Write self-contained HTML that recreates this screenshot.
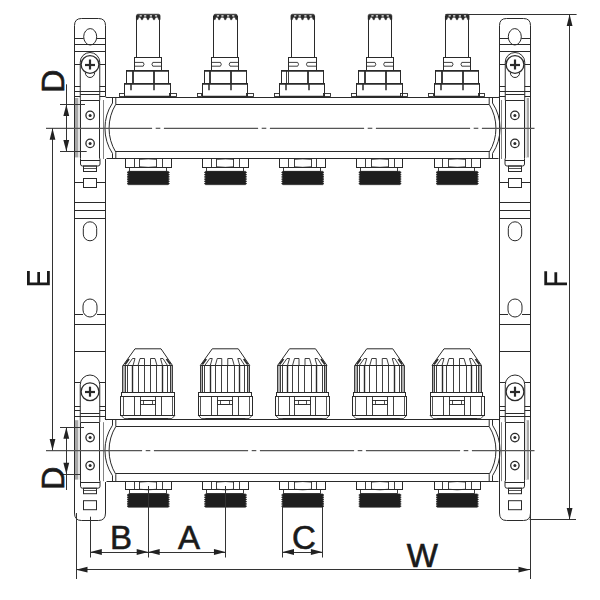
<!DOCTYPE html>
<html><head><meta charset="utf-8"><style>
html,body{margin:0;padding:0;background:#fff;width:600px;height:600px;overflow:hidden}
svg{display:block}
text{font-family:"Liberation Sans",sans-serif}
</style></head><body>
<svg width="600" height="600" viewBox="0 0 600 600">
<rect width="600" height="600" fill="#fff"/>
<path d="M74.50,97 L74.50,25.5 Q74.50,18.5 81.50,18.5 L98.50,18.5 Q105.50,18.5 105.50,25.5 L105.50,96" fill="none" stroke="#2a2a2a" stroke-width="1"/>
<line x1="74.50" y1="97.00" x2="74.50" y2="158.00" stroke="#2a2a2a" stroke-width="1.0" />
<line x1="74.50" y1="158.00" x2="74.50" y2="420.00" stroke="#2a2a2a" stroke-width="1.0" />
<line x1="105.50" y1="159.00" x2="105.50" y2="420.00" stroke="#2a2a2a" stroke-width="1.0" />
<line x1="74.50" y1="420.00" x2="74.50" y2="480.00" stroke="#2a2a2a" stroke-width="1.0" />
<path d="M74.50,480 L74.50,513 Q74.50,520.5 81.50,520.5 L98.50,520.5 Q105.50,520.5 105.50,513 L105.50,482" fill="none" stroke="#2a2a2a" stroke-width="1"/>
<ellipse cx="90.20" cy="36.80" rx="6.50" ry="8.20" fill="none" stroke="#2a2a2a" stroke-width="1.0"/>
<line x1="75.00" y1="38.50" x2="83.70" y2="38.50" stroke="#2a2a2a" stroke-width="1.0" />
<line x1="96.70" y1="38.50" x2="105.30" y2="38.50" stroke="#2a2a2a" stroke-width="1.0" />
<line x1="75.00" y1="44.50" x2="105.30" y2="44.50" stroke="#2a2a2a" stroke-width="1.0" />
<line x1="75.00" y1="51.50" x2="105.30" y2="51.50" stroke="#2a2a2a" stroke-width="1.0" />
<path d="M80.25,100.3 L80.25,62.25 A9.75,9.75 0 0 1 99.75,62.25 L99.75,100.3" fill="none" stroke="#2a2a2a" stroke-width="1"/>
<line x1="75.00" y1="64.50" x2="80.25" y2="64.50" stroke="#2a2a2a" stroke-width="1.0" />
<line x1="99.75" y1="64.50" x2="105.30" y2="64.50" stroke="#2a2a2a" stroke-width="1.0" />
<circle cx="90.00" cy="64.50" r="8.90" fill="#fff" stroke="#2a2a2a" stroke-width="1.3"/>
<line x1="85.00" y1="65.00" x2="95.00" y2="65.00" stroke="#2a2a2a" stroke-width="2.2" />
<line x1="90.00" y1="59.50" x2="90.00" y2="69.50" stroke="#2a2a2a" stroke-width="2.2" />
<path d="M80.25,422 L80.25,384.75 A9.75,9.75 0 0 1 99.75,384.75 L99.75,422" fill="none" stroke="#2a2a2a" stroke-width="1"/>
<line x1="75.00" y1="382.50" x2="80.25" y2="382.50" stroke="#2a2a2a" stroke-width="1.0" />
<line x1="99.75" y1="382.50" x2="105.30" y2="382.50" stroke="#2a2a2a" stroke-width="1.0" />
<circle cx="90.00" cy="391.70" r="8.90" fill="#fff" stroke="#2a2a2a" stroke-width="1.3"/>
<line x1="85.00" y1="392.00" x2="95.00" y2="392.00" stroke="#2a2a2a" stroke-width="2.2" />
<line x1="90.00" y1="386.70" x2="90.00" y2="396.70" stroke="#2a2a2a" stroke-width="2.2" />
<path d="M85.30,72.6 A4.7,4.9 0 0 0 94.70,72.6" fill="none" stroke="#2a2a2a" stroke-width="1"/>
<line x1="75.00" y1="86.50" x2="80.30" y2="86.50" stroke="#2a2a2a" stroke-width="1.0" />
<line x1="99.70" y1="86.50" x2="105.30" y2="86.50" stroke="#2a2a2a" stroke-width="1.0" />
<line x1="75.00" y1="91.50" x2="105.30" y2="91.50" stroke="#2a2a2a" stroke-width="1.0" />
<line x1="80.30" y1="94.50" x2="99.70" y2="94.50" stroke="#2a2a2a" stroke-width="1.0" />
<line x1="75.00" y1="96.50" x2="80.30" y2="96.50" stroke="#2a2a2a" stroke-width="1.0" />
<line x1="99.70" y1="96.50" x2="105.30" y2="96.50" stroke="#2a2a2a" stroke-width="1.0" />
<line x1="80.30" y1="100.50" x2="99.70" y2="100.50" stroke="#2a2a2a" stroke-width="1.0" />
<line x1="75.00" y1="406.50" x2="80.30" y2="406.50" stroke="#2a2a2a" stroke-width="1.0" />
<line x1="99.70" y1="406.50" x2="105.30" y2="406.50" stroke="#2a2a2a" stroke-width="1.0" />
<line x1="75.00" y1="410.50" x2="80.30" y2="410.50" stroke="#2a2a2a" stroke-width="1.0" />
<line x1="99.70" y1="410.50" x2="105.30" y2="410.50" stroke="#2a2a2a" stroke-width="1.0" />
<line x1="80.30" y1="413.50" x2="99.70" y2="413.50" stroke="#2a2a2a" stroke-width="1.0" />
<line x1="75.00" y1="416.50" x2="105.30" y2="416.50" stroke="#2a2a2a" stroke-width="1.0" />
<line x1="80.30" y1="422.50" x2="99.70" y2="422.50" stroke="#2a2a2a" stroke-width="1.0" />
<rect x="75" y="98.00" width="3" height="59.40" fill="#a8a8a8"/>
<rect x="78" y="98.00" width="2" height="59.40" fill="#e2e2e2"/>
<line x1="80.50" y1="100.30" x2="80.50" y2="158.60" stroke="#2a2a2a" stroke-width="1.0" />
<line x1="99.50" y1="100.30" x2="99.50" y2="158.60" stroke="#2a2a2a" stroke-width="1.0" />
<line x1="103.50" y1="100.00" x2="103.50" y2="159.00" stroke="#777" stroke-width="0.9" />
<circle cx="90.10" cy="115.40" r="4.20" fill="none" stroke="#2a2a2a" stroke-width="1.3"/>
<circle cx="90.10" cy="115.40" r="1.50" fill="#2a2a2a" stroke="#2a2a2a" stroke-width="0"/>
<circle cx="90.10" cy="143.40" r="4.20" fill="none" stroke="#2a2a2a" stroke-width="1.3"/>
<circle cx="90.10" cy="143.40" r="1.50" fill="#2a2a2a" stroke="#2a2a2a" stroke-width="0"/>
<path d="M80.50,158.60 L80.50,164.00 Q80.50,166.00 82.50,166.00 L98.00,166.00 Q100.00,166.00 100.00,164.00 L100.00,158.60" fill="none" stroke="#2a2a2a" stroke-width="1"/>
<line x1="80.50" y1="160.50" x2="100.00" y2="160.50" stroke="#2a2a2a" stroke-width="1.0" />
<rect x="83.50" y="166.00" width="13" height="5.5" fill="none" stroke="#2a2a2a" stroke-width="1"/>
<line x1="83.50" y1="168.50" x2="96.50" y2="168.50" stroke="#2a2a2a" stroke-width="0.8" />
<rect x="83.50" y="178.50" width="13" height="9" fill="none" stroke="#2a2a2a" stroke-width="1"/>
<rect x="75" y="420.20" width="3" height="59.40" fill="#a8a8a8"/>
<rect x="78" y="420.20" width="2" height="59.40" fill="#e2e2e2"/>
<line x1="80.50" y1="422.50" x2="80.50" y2="480.80" stroke="#2a2a2a" stroke-width="1.0" />
<line x1="99.50" y1="422.50" x2="99.50" y2="480.80" stroke="#2a2a2a" stroke-width="1.0" />
<line x1="103.50" y1="422.20" x2="103.50" y2="481.20" stroke="#777" stroke-width="0.9" />
<circle cx="90.10" cy="437.60" r="4.20" fill="none" stroke="#2a2a2a" stroke-width="1.3"/>
<circle cx="90.10" cy="437.60" r="1.50" fill="#2a2a2a" stroke="#2a2a2a" stroke-width="0"/>
<circle cx="90.10" cy="465.60" r="4.20" fill="none" stroke="#2a2a2a" stroke-width="1.3"/>
<circle cx="90.10" cy="465.60" r="1.50" fill="#2a2a2a" stroke="#2a2a2a" stroke-width="0"/>
<path d="M80.50,480.80 L80.50,486.20 Q80.50,488.20 82.50,488.20 L98.00,488.20 Q100.00,488.20 100.00,486.20 L100.00,480.80" fill="none" stroke="#2a2a2a" stroke-width="1"/>
<line x1="80.50" y1="482.50" x2="100.00" y2="482.50" stroke="#2a2a2a" stroke-width="1.0" />
<rect x="83.50" y="488.20" width="13" height="5.5" fill="none" stroke="#2a2a2a" stroke-width="1"/>
<line x1="83.50" y1="490.50" x2="96.50" y2="490.50" stroke="#2a2a2a" stroke-width="0.8" />
<rect x="83.50" y="500.70" width="13" height="9" fill="none" stroke="#2a2a2a" stroke-width="1"/>
<line x1="75.00" y1="182.50" x2="83.50" y2="182.50" stroke="#2a2a2a" stroke-width="1.0" />
<line x1="96.50" y1="182.50" x2="105.30" y2="182.50" stroke="#2a2a2a" stroke-width="1.0" />
<line x1="75.00" y1="202.50" x2="105.30" y2="202.50" stroke="#2a2a2a" stroke-width="1.0" />
<line x1="75.00" y1="210.50" x2="105.30" y2="210.50" stroke="#2a2a2a" stroke-width="1.0" />
<line x1="75.00" y1="218.50" x2="105.30" y2="218.50" stroke="#2a2a2a" stroke-width="1.0" />
<rect x="83.30" y="221.8" width="13.4" height="19" rx="6.7" ry="6.7" fill="none" stroke="#2a2a2a" stroke-width="1"/>
<rect x="83.00" y="299" width="14" height="18" rx="7" ry="7" fill="none" stroke="#2a2a2a" stroke-width="1"/>
<line x1="75.00" y1="314.50" x2="83.00" y2="314.50" stroke="#2a2a2a" stroke-width="1.0" />
<line x1="97.00" y1="314.50" x2="105.30" y2="314.50" stroke="#2a2a2a" stroke-width="1.0" />
<line x1="75.00" y1="324.50" x2="105.30" y2="324.50" stroke="#2a2a2a" stroke-width="1.0" />
<line x1="75.00" y1="351.50" x2="105.30" y2="351.50" stroke="#2a2a2a" stroke-width="1.0" />
<path d="M530.50,97 L530.50,25.5 Q530.50,18.5 523.50,18.5 L506.50,18.5 Q499.50,18.5 499.50,25.5 L499.50,96" fill="none" stroke="#2a2a2a" stroke-width="1"/>
<line x1="530.50" y1="97.00" x2="530.50" y2="158.00" stroke="#2a2a2a" stroke-width="1.0" />
<line x1="530.50" y1="158.00" x2="530.50" y2="420.00" stroke="#2a2a2a" stroke-width="1.0" />
<line x1="499.50" y1="159.00" x2="499.50" y2="420.00" stroke="#2a2a2a" stroke-width="1.0" />
<line x1="530.50" y1="420.00" x2="530.50" y2="480.00" stroke="#2a2a2a" stroke-width="1.0" />
<line x1="499.50" y1="96.00" x2="499.50" y2="159.00" stroke="#2a2a2a" stroke-width="1.0" />
<line x1="499.50" y1="420.00" x2="499.50" y2="482.00" stroke="#2a2a2a" stroke-width="1.0" />
<path d="M530.50,480 L530.50,513 Q530.50,520.5 523.50,520.5 L506.50,520.5 Q499.50,520.5 499.50,513 L499.50,482" fill="none" stroke="#2a2a2a" stroke-width="1"/>
<ellipse cx="514.80" cy="36.80" rx="6.50" ry="8.20" fill="none" stroke="#2a2a2a" stroke-width="1.0"/>
<line x1="530.00" y1="38.50" x2="521.30" y2="38.50" stroke="#2a2a2a" stroke-width="1.0" />
<line x1="508.30" y1="38.50" x2="499.70" y2="38.50" stroke="#2a2a2a" stroke-width="1.0" />
<line x1="530.00" y1="44.50" x2="499.70" y2="44.50" stroke="#2a2a2a" stroke-width="1.0" />
<line x1="530.00" y1="51.50" x2="499.70" y2="51.50" stroke="#2a2a2a" stroke-width="1.0" />
<path d="M524.75,100.3 L524.75,62.25 A9.75,9.75 0 0 0 505.25,62.25 L505.25,100.3" fill="none" stroke="#2a2a2a" stroke-width="1"/>
<line x1="530.00" y1="64.50" x2="524.75" y2="64.50" stroke="#2a2a2a" stroke-width="1.0" />
<line x1="505.25" y1="64.50" x2="499.70" y2="64.50" stroke="#2a2a2a" stroke-width="1.0" />
<circle cx="515.00" cy="64.50" r="8.90" fill="#fff" stroke="#2a2a2a" stroke-width="1.3"/>
<line x1="520.00" y1="65.00" x2="510.00" y2="65.00" stroke="#2a2a2a" stroke-width="2.2" />
<line x1="515.00" y1="59.50" x2="515.00" y2="69.50" stroke="#2a2a2a" stroke-width="2.2" />
<path d="M524.75,422 L524.75,384.75 A9.75,9.75 0 0 0 505.25,384.75 L505.25,422" fill="none" stroke="#2a2a2a" stroke-width="1"/>
<line x1="530.00" y1="382.50" x2="524.75" y2="382.50" stroke="#2a2a2a" stroke-width="1.0" />
<line x1="505.25" y1="382.50" x2="499.70" y2="382.50" stroke="#2a2a2a" stroke-width="1.0" />
<circle cx="515.00" cy="391.70" r="8.90" fill="#fff" stroke="#2a2a2a" stroke-width="1.3"/>
<line x1="520.00" y1="392.00" x2="510.00" y2="392.00" stroke="#2a2a2a" stroke-width="2.2" />
<line x1="515.00" y1="386.70" x2="515.00" y2="396.70" stroke="#2a2a2a" stroke-width="2.2" />
<path d="M519.70,72.6 A4.7,4.9 0 0 1 510.30,72.6" fill="none" stroke="#2a2a2a" stroke-width="1"/>
<line x1="530.00" y1="86.50" x2="524.70" y2="86.50" stroke="#2a2a2a" stroke-width="1.0" />
<line x1="505.30" y1="86.50" x2="499.70" y2="86.50" stroke="#2a2a2a" stroke-width="1.0" />
<line x1="530.00" y1="91.50" x2="499.70" y2="91.50" stroke="#2a2a2a" stroke-width="1.0" />
<line x1="524.70" y1="94.50" x2="505.30" y2="94.50" stroke="#2a2a2a" stroke-width="1.0" />
<line x1="530.00" y1="96.50" x2="524.70" y2="96.50" stroke="#2a2a2a" stroke-width="1.0" />
<line x1="505.30" y1="96.50" x2="499.70" y2="96.50" stroke="#2a2a2a" stroke-width="1.0" />
<line x1="524.70" y1="100.50" x2="505.30" y2="100.50" stroke="#2a2a2a" stroke-width="1.0" />
<line x1="530.00" y1="406.50" x2="524.70" y2="406.50" stroke="#2a2a2a" stroke-width="1.0" />
<line x1="505.30" y1="406.50" x2="499.70" y2="406.50" stroke="#2a2a2a" stroke-width="1.0" />
<line x1="530.00" y1="410.50" x2="524.70" y2="410.50" stroke="#2a2a2a" stroke-width="1.0" />
<line x1="505.30" y1="410.50" x2="499.70" y2="410.50" stroke="#2a2a2a" stroke-width="1.0" />
<line x1="524.70" y1="413.50" x2="505.30" y2="413.50" stroke="#2a2a2a" stroke-width="1.0" />
<line x1="530.00" y1="416.50" x2="499.70" y2="416.50" stroke="#2a2a2a" stroke-width="1.0" />
<line x1="524.70" y1="422.50" x2="505.30" y2="422.50" stroke="#2a2a2a" stroke-width="1.0" />
<rect x="526" y="98.00" width="3" height="59.40" fill="#a8a8a8"/>
<rect x="525" y="98.00" width="2" height="59.40" fill="#e2e2e2"/>
<line x1="524.50" y1="100.30" x2="524.50" y2="158.60" stroke="#2a2a2a" stroke-width="1.0" />
<line x1="505.50" y1="100.30" x2="505.50" y2="158.60" stroke="#2a2a2a" stroke-width="1.0" />
<line x1="501.50" y1="100.00" x2="501.50" y2="159.00" stroke="#777" stroke-width="0.9" />
<circle cx="514.90" cy="115.40" r="4.20" fill="none" stroke="#2a2a2a" stroke-width="1.3"/>
<circle cx="514.90" cy="115.40" r="1.50" fill="#2a2a2a" stroke="#2a2a2a" stroke-width="0"/>
<circle cx="514.90" cy="143.40" r="4.20" fill="none" stroke="#2a2a2a" stroke-width="1.3"/>
<circle cx="514.90" cy="143.40" r="1.50" fill="#2a2a2a" stroke="#2a2a2a" stroke-width="0"/>
<path d="M524.50,158.60 L524.50,164.00 Q524.50,166.00 522.50,166.00 L507.00,166.00 Q505.00,166.00 505.00,164.00 L505.00,158.60" fill="none" stroke="#2a2a2a" stroke-width="1"/>
<line x1="524.50" y1="160.50" x2="505.00" y2="160.50" stroke="#2a2a2a" stroke-width="1.0" />
<rect x="508.50" y="166.00" width="13" height="5.5" fill="none" stroke="#2a2a2a" stroke-width="1"/>
<line x1="521.50" y1="168.50" x2="508.50" y2="168.50" stroke="#2a2a2a" stroke-width="0.8" />
<rect x="508.50" y="178.50" width="13" height="9" fill="none" stroke="#2a2a2a" stroke-width="1"/>
<rect x="526" y="420.20" width="3" height="59.40" fill="#a8a8a8"/>
<rect x="525" y="420.20" width="2" height="59.40" fill="#e2e2e2"/>
<line x1="524.50" y1="422.50" x2="524.50" y2="480.80" stroke="#2a2a2a" stroke-width="1.0" />
<line x1="505.50" y1="422.50" x2="505.50" y2="480.80" stroke="#2a2a2a" stroke-width="1.0" />
<line x1="501.50" y1="422.20" x2="501.50" y2="481.20" stroke="#777" stroke-width="0.9" />
<circle cx="514.90" cy="437.60" r="4.20" fill="none" stroke="#2a2a2a" stroke-width="1.3"/>
<circle cx="514.90" cy="437.60" r="1.50" fill="#2a2a2a" stroke="#2a2a2a" stroke-width="0"/>
<circle cx="514.90" cy="465.60" r="4.20" fill="none" stroke="#2a2a2a" stroke-width="1.3"/>
<circle cx="514.90" cy="465.60" r="1.50" fill="#2a2a2a" stroke="#2a2a2a" stroke-width="0"/>
<path d="M524.50,480.80 L524.50,486.20 Q524.50,488.20 522.50,488.20 L507.00,488.20 Q505.00,488.20 505.00,486.20 L505.00,480.80" fill="none" stroke="#2a2a2a" stroke-width="1"/>
<line x1="524.50" y1="482.50" x2="505.00" y2="482.50" stroke="#2a2a2a" stroke-width="1.0" />
<rect x="508.50" y="488.20" width="13" height="5.5" fill="none" stroke="#2a2a2a" stroke-width="1"/>
<line x1="521.50" y1="490.50" x2="508.50" y2="490.50" stroke="#2a2a2a" stroke-width="0.8" />
<rect x="508.50" y="500.70" width="13" height="9" fill="none" stroke="#2a2a2a" stroke-width="1"/>
<line x1="530.00" y1="182.50" x2="521.50" y2="182.50" stroke="#2a2a2a" stroke-width="1.0" />
<line x1="508.50" y1="182.50" x2="499.70" y2="182.50" stroke="#2a2a2a" stroke-width="1.0" />
<line x1="530.00" y1="202.50" x2="499.70" y2="202.50" stroke="#2a2a2a" stroke-width="1.0" />
<line x1="530.00" y1="210.50" x2="499.70" y2="210.50" stroke="#2a2a2a" stroke-width="1.0" />
<line x1="530.00" y1="218.50" x2="499.70" y2="218.50" stroke="#2a2a2a" stroke-width="1.0" />
<rect x="508.30" y="221.8" width="13.4" height="19" rx="6.7" ry="6.7" fill="none" stroke="#2a2a2a" stroke-width="1"/>
<rect x="508.00" y="299" width="14" height="18" rx="7" ry="7" fill="none" stroke="#2a2a2a" stroke-width="1"/>
<line x1="530.00" y1="314.50" x2="522.00" y2="314.50" stroke="#2a2a2a" stroke-width="1.0" />
<line x1="508.00" y1="314.50" x2="499.70" y2="314.50" stroke="#2a2a2a" stroke-width="1.0" />
<line x1="530.00" y1="324.50" x2="499.70" y2="324.50" stroke="#2a2a2a" stroke-width="1.0" />
<line x1="530.00" y1="351.50" x2="499.70" y2="351.50" stroke="#2a2a2a" stroke-width="1.0" />
<line x1="106.50" y1="97.50" x2="498.50" y2="97.50" stroke="#2a2a2a" stroke-width="1.1" />
<line x1="116.00" y1="104.50" x2="489.00" y2="104.50" stroke="#2a2a2a" stroke-width="1.0" />
<line x1="116.00" y1="151.50" x2="489.00" y2="151.50" stroke="#2a2a2a" stroke-width="1.0" />
<line x1="106.50" y1="158.50" x2="498.50" y2="158.50" stroke="#2a2a2a" stroke-width="1.1" />
<path d="M112.50,97.50 L112.50,103.00 A46,46 0 0 0 112.50,153.50 L112.50,159.00" fill="none" stroke="#2a2a2a" stroke-width="1"/>
<path d="M115.80,97.50 L115.80,104.30 A46,46 0 0 0 115.80,152.20 L115.80,159.00" fill="none" stroke="#2a2a2a" stroke-width="1"/>
<path d="M105.10,96.20 Q105.30,97.50 107.00,97.50" fill="none" stroke="#2a2a2a" stroke-width="1"/>
<path d="M492.50,97.50 L492.50,103.00 A46,46 0 0 1 492.50,153.50 L492.50,159.00" fill="none" stroke="#2a2a2a" stroke-width="1"/>
<path d="M489.20,97.50 L489.20,104.30 A46,46 0 0 1 489.20,152.20 L489.20,159.00" fill="none" stroke="#2a2a2a" stroke-width="1"/>
<path d="M499.90,96.20 Q499.70,97.50 498.00,97.50" fill="none" stroke="#2a2a2a" stroke-width="1"/>
<line x1="106.50" y1="419.50" x2="498.50" y2="419.50" stroke="#2a2a2a" stroke-width="1.1" />
<line x1="116.00" y1="426.50" x2="489.00" y2="426.50" stroke="#2a2a2a" stroke-width="1.0" />
<line x1="116.00" y1="473.50" x2="489.00" y2="473.50" stroke="#2a2a2a" stroke-width="1.0" />
<line x1="106.50" y1="481.50" x2="498.50" y2="481.50" stroke="#2a2a2a" stroke-width="1.1" />
<path d="M112.50,419.70 L112.50,425.20 A46,46 0 0 0 112.50,475.70 L112.50,481.20" fill="none" stroke="#2a2a2a" stroke-width="1"/>
<path d="M115.80,419.70 L115.80,426.50 A46,46 0 0 0 115.80,474.40 L115.80,481.20" fill="none" stroke="#2a2a2a" stroke-width="1"/>
<path d="M105.10,418.40 Q105.30,419.70 107.00,419.70" fill="none" stroke="#2a2a2a" stroke-width="1"/>
<path d="M492.50,419.70 L492.50,425.20 A46,46 0 0 1 492.50,475.70 L492.50,481.20" fill="none" stroke="#2a2a2a" stroke-width="1"/>
<path d="M489.20,419.70 L489.20,426.50 A46,46 0 0 1 489.20,474.40 L489.20,481.20" fill="none" stroke="#2a2a2a" stroke-width="1"/>
<path d="M499.90,418.40 Q499.70,419.70 498.00,419.70" fill="none" stroke="#2a2a2a" stroke-width="1"/>
<line x1="46.00" y1="128.3" x2="152.10" y2="128.3" stroke="#555" stroke-width="1.2"/>
<line x1="155.70" y1="128.3" x2="160.30" y2="128.3" stroke="#555" stroke-width="1.2"/>
<line x1="163.90" y1="128.3" x2="258.10" y2="128.3" stroke="#555" stroke-width="1.2"/>
<line x1="261.70" y1="128.3" x2="266.30" y2="128.3" stroke="#555" stroke-width="1.2"/>
<line x1="269.90" y1="128.3" x2="364.10" y2="128.3" stroke="#555" stroke-width="1.2"/>
<line x1="367.70" y1="128.3" x2="372.30" y2="128.3" stroke="#555" stroke-width="1.2"/>
<line x1="375.90" y1="128.3" x2="470.10" y2="128.3" stroke="#555" stroke-width="1.2"/>
<line x1="473.70" y1="128.3" x2="478.30" y2="128.3" stroke="#555" stroke-width="1.2"/>
<line x1="481.90" y1="128.3" x2="534.50" y2="128.3" stroke="#555" stroke-width="1.2"/>
<line x1="46.00" y1="450.6" x2="142.10" y2="450.6" stroke="#555" stroke-width="1.2"/>
<line x1="145.70" y1="450.6" x2="150.30" y2="450.6" stroke="#555" stroke-width="1.2"/>
<line x1="153.90" y1="450.6" x2="248.10" y2="450.6" stroke="#555" stroke-width="1.2"/>
<line x1="251.70" y1="450.6" x2="256.30" y2="450.6" stroke="#555" stroke-width="1.2"/>
<line x1="259.90" y1="450.6" x2="354.10" y2="450.6" stroke="#555" stroke-width="1.2"/>
<line x1="357.70" y1="450.6" x2="362.30" y2="450.6" stroke="#555" stroke-width="1.2"/>
<line x1="365.90" y1="450.6" x2="460.10" y2="450.6" stroke="#555" stroke-width="1.2"/>
<line x1="463.70" y1="450.6" x2="468.30" y2="450.6" stroke="#555" stroke-width="1.2"/>
<line x1="471.90" y1="450.6" x2="534.50" y2="450.6" stroke="#555" stroke-width="1.2"/>
<g transform="translate(148.20,0.00)"><path d="M-11.8,19.6 L-11.8,15.8 Q-11.8,14.2 -10.2,14.2 L10.3,14.2 Q11.9,14.2 11.9,15.8 L11.9,19.6 L10.4,19.6 L9.6,17.2 L-9.5,17.2 L-10.3,19.6 Z" fill="#2a2a2a" stroke="#2a2a2a" stroke-width="0.6" /></g>
<g transform="translate(148.20,0.00)"><path d="M-8.6,15.3 h2.2 v1.2 h-2.2 Z" fill="#fff" stroke="#2a2a2a" stroke-width="0" /></g>
<g transform="translate(148.20,0.00)"><path d="M-4.1,15.3 h2.2 v1.2 h-2.2 Z" fill="#fff" stroke="#2a2a2a" stroke-width="0" /></g>
<g transform="translate(148.20,0.00)"><path d="M1.6,15.3 h2.2 v1.2 h-2.2 Z" fill="#fff" stroke="#2a2a2a" stroke-width="0" /></g>
<g transform="translate(148.20,0.00)"><path d="M6.7,15.3 h2.2 v1.2 h-2.2 Z" fill="#fff" stroke="#2a2a2a" stroke-width="0" /></g>
<g transform="translate(148.20,0.00)"><path d="M-7.9,17 L-6.8,19.8 L-5.6000000000000005,19.8 L-4.5,17 Z" fill="#2a2a2a" stroke="#2a2a2a" stroke-width="0.4" /></g>
<g transform="translate(148.20,0.00)"><path d="M-1.9,17 L-0.8,19.8 L0.39999999999999997,19.8 L1.5,17 Z" fill="#2a2a2a" stroke="#2a2a2a" stroke-width="0.4" /></g>
<g transform="translate(148.20,0.00)"><path d="M4.1,17 L5.2,19.8 L6.3999999999999995,19.8 L7.5,17 Z" fill="#2a2a2a" stroke="#2a2a2a" stroke-width="0.4" /></g>
<line x1="136.50" y1="16.00" x2="136.50" y2="57.70" stroke="#2a2a2a" stroke-width="1.0" />
<line x1="159.50" y1="16.00" x2="159.50" y2="57.70" stroke="#2a2a2a" stroke-width="1.0" />
<rect x="134.50" y="57.50" width="27.00" height="13.00" rx="0" fill="none" stroke="#2a2a2a" stroke-width="1.0"/>
<g transform="translate(148.20,0.00)"><path d="M-13.9,62.4 L-5,62.4 Q-3.3,64.3 -5,66.2 L-13.9,66.2" fill="none" stroke="#2a2a2a" stroke-width="0.9" /></g>
<g transform="translate(148.20,0.00)"><path d="M13.5,62.4 L4.6,62.4 Q2.9,64.3 4.6,66.2 L13.5,66.2" fill="none" stroke="#2a2a2a" stroke-width="0.9" /></g>
<rect x="126.50" y="70.50" width="42.00" height="13.00" rx="0" fill="none" stroke="#2a2a2a" stroke-width="1.0"/>
<line x1="126.80" y1="71.00" x2="169.00" y2="71.00" stroke="#2a2a2a" stroke-width="1.6" />
<line x1="132.50" y1="70.60" x2="132.50" y2="83.80" stroke="#2a2a2a" stroke-width="0.9" />
<line x1="133.50" y1="70.60" x2="133.50" y2="83.80" stroke="#2a2a2a" stroke-width="0.9" />
<line x1="153.50" y1="70.60" x2="153.50" y2="83.80" stroke="#2a2a2a" stroke-width="0.9" />
<line x1="154.50" y1="70.60" x2="154.50" y2="83.80" stroke="#2a2a2a" stroke-width="0.9" />
<rect x="124.50" y="83.50" width="46.00" height="13.00" rx="0" fill="none" stroke="#2a2a2a" stroke-width="1.0"/>
<line x1="125.00" y1="84.00" x2="170.50" y2="84.00" stroke="#2a2a2a" stroke-width="1.6" />
<line x1="131.00" y1="83.80" x2="131.00" y2="90.20" stroke="#2a2a2a" stroke-width="1.5" />
<line x1="154.00" y1="83.80" x2="154.00" y2="90.20" stroke="#2a2a2a" stroke-width="1.5" />
<line x1="125.00" y1="96.50" x2="170.50" y2="96.50" stroke="#2a2a2a" stroke-width="1.4" />
<rect x="119.50" y="93.50" width="5.00" height="3.00" rx="0" fill="none" stroke="#2a2a2a" stroke-width="0.9"/>
<rect x="169.50" y="93.50" width="7.00" height="3.00" rx="0" fill="none" stroke="#2a2a2a" stroke-width="0.9"/>
<rect x="125.50" y="158.50" width="46.00" height="9.00" rx="0" fill="none" stroke="#2a2a2a" stroke-width="1.0"/>
<line x1="134.50" y1="159.00" x2="134.50" y2="167.20" stroke="#2a2a2a" stroke-width="0.9" />
<line x1="139.50" y1="159.00" x2="139.50" y2="167.20" stroke="#2a2a2a" stroke-width="0.9" />
<line x1="156.50" y1="159.00" x2="156.50" y2="167.20" stroke="#2a2a2a" stroke-width="0.9" />
<line x1="162.50" y1="159.00" x2="162.50" y2="167.20" stroke="#2a2a2a" stroke-width="0.9" />
<g transform="translate(148.20,159.00)"><path d="M-8.5,0.6 Q0,-0.8 8.5,0.6" fill="none" stroke="#2a2a2a" stroke-width="0.7" /></g>
<g transform="translate(148.20,159.00)"><path d="M-8.5,7.6 Q0,9.0 8.5,7.6" fill="none" stroke="#2a2a2a" stroke-width="0.7" /></g>
<rect x="129.50" y="167.50" width="37.00" height="4.00" rx="0" fill="none" stroke="#2a2a2a" stroke-width="0.9"/>
<g transform="translate(148.20,159.00)"><path d="M-19.8,12.3 L19.9,12.3 L21.3,13.40 L19.9,14.53 L21.3,15.63 L19.9,16.76 L21.3,17.86 L19.9,18.99 L21.3,20.09 L19.9,21.22 L21.3,22.32 L19.9,23.45 L21.3,24.55 L19.9,25.68 L-19.8,25.7 L-21.2,24.60 L-19.8,23.47 L-21.2,22.37 L-19.8,21.24 L-21.2,20.14 L-19.8,19.01 L-21.2,17.91 L-19.8,16.78 L-21.2,15.68 L-19.8,14.55 L-21.2,13.45 L-19.8,12.32 Z" fill="#1e1e1e" stroke="#2a2a2a" stroke-width="0.6" /></g>
<rect x="125.50" y="481.50" width="46.00" height="8.00" rx="0" fill="none" stroke="#2a2a2a" stroke-width="1.0"/>
<line x1="134.50" y1="481.60" x2="134.50" y2="489.80" stroke="#2a2a2a" stroke-width="0.9" />
<line x1="139.50" y1="481.60" x2="139.50" y2="489.80" stroke="#2a2a2a" stroke-width="0.9" />
<line x1="156.50" y1="481.60" x2="156.50" y2="489.80" stroke="#2a2a2a" stroke-width="0.9" />
<line x1="162.50" y1="481.60" x2="162.50" y2="489.80" stroke="#2a2a2a" stroke-width="0.9" />
<g transform="translate(148.20,481.60)"><path d="M-8.5,0.6 Q0,-0.8 8.5,0.6" fill="none" stroke="#2a2a2a" stroke-width="0.7" /></g>
<g transform="translate(148.20,481.60)"><path d="M-8.5,7.6 Q0,9.0 8.5,7.6" fill="none" stroke="#2a2a2a" stroke-width="0.7" /></g>
<rect x="129.50" y="489.50" width="37.00" height="4.00" rx="0" fill="none" stroke="#2a2a2a" stroke-width="0.9"/>
<g transform="translate(148.20,481.60)"><path d="M-19.8,12.3 L19.9,12.3 L21.3,13.40 L19.9,14.53 L21.3,15.63 L19.9,16.76 L21.3,17.86 L19.9,18.99 L21.3,20.09 L19.9,21.22 L21.3,22.32 L19.9,23.45 L21.3,24.55 L19.9,25.68 L-19.8,25.7 L-21.2,24.60 L-19.8,23.47 L-21.2,22.37 L-19.8,21.24 L-21.2,20.14 L-19.8,19.01 L-21.2,17.91 L-19.8,16.78 L-21.2,15.68 L-19.8,14.55 L-21.2,13.45 L-19.8,12.32 Z" fill="#1e1e1e" stroke="#2a2a2a" stroke-width="0.6" /></g>
<g transform="translate(148.20,0.00)"><path d="M-13.2,348.8 L12.8,348.8 L24.3,365.5 L-25.2,365.5 Z" fill="none" stroke="#2a2a2a" stroke-width="1.0" /></g>
<rect x="123.00" y="366.00" width="2.00" height="26.00" fill="#b0b0b0"/>
<rect x="170.00" y="366.00" width="2.00" height="26.00" fill="#b0b0b0"/>
<line x1="129.00" y1="359.00" x2="125.00" y2="364.50" stroke="#2a2a2a" stroke-width="1.8" />
<line x1="166.50" y1="359.00" x2="170.50" y2="364.50" stroke="#2a2a2a" stroke-width="1.8" />
<line x1="122.50" y1="365.50" x2="122.50" y2="392.00" stroke="#2a2a2a" stroke-width="0.9" />
<line x1="125.50" y1="365.50" x2="125.50" y2="392.00" stroke="#2a2a2a" stroke-width="0.9" />
<line x1="127.50" y1="365.50" x2="127.50" y2="392.00" stroke="#2a2a2a" stroke-width="0.9" />
<line x1="132.50" y1="365.50" x2="132.50" y2="392.00" stroke="#2a2a2a" stroke-width="1.4" />
<line x1="138.50" y1="365.50" x2="138.50" y2="392.00" stroke="#2a2a2a" stroke-width="0.9" />
<line x1="144.50" y1="365.50" x2="144.50" y2="392.00" stroke="#2a2a2a" stroke-width="0.9" />
<line x1="150.50" y1="365.50" x2="150.50" y2="392.00" stroke="#2a2a2a" stroke-width="0.9" />
<line x1="156.50" y1="365.50" x2="156.50" y2="392.00" stroke="#2a2a2a" stroke-width="0.9" />
<line x1="162.50" y1="365.50" x2="162.50" y2="392.00" stroke="#2a2a2a" stroke-width="1.4" />
<line x1="167.50" y1="365.50" x2="167.50" y2="392.00" stroke="#2a2a2a" stroke-width="0.9" />
<line x1="170.50" y1="365.50" x2="170.50" y2="392.00" stroke="#2a2a2a" stroke-width="0.9" />
<line x1="172.50" y1="365.50" x2="172.50" y2="392.00" stroke="#2a2a2a" stroke-width="0.9" />
<g transform="translate(148.20,0.00)"><path d="M-20.7,365.5 L-15.7,358.5 L-13.2,358.5 L-15.2,365.5" fill="none" stroke="#2a2a2a" stroke-width="0.9" /></g>
<g transform="translate(148.20,0.00)"><path d="M-10.2,365.5 L-8.2,358.5 L-3.7,358.5 L-3.7,365.5" fill="none" stroke="#2a2a2a" stroke-width="0.9" /></g>
<g transform="translate(148.20,0.00)"><path d="M2.3,365.5 L2.3,358.5 L6.8,358.5 L8.8,365.5" fill="none" stroke="#2a2a2a" stroke-width="0.9" /></g>
<g transform="translate(148.20,0.00)"><path d="M14.3,365.5 L12.3,358.5 L14.8,358.5 L19.3,365.5" fill="none" stroke="#2a2a2a" stroke-width="0.9" /></g>
<rect x="121.50" y="392.50" width="53.00" height="4.00" rx="0" fill="none" stroke="#2a2a2a" stroke-width="1.0"/>
<rect x="120.50" y="396.50" width="54.00" height="19.00" rx="0" fill="none" stroke="#2a2a2a" stroke-width="1.0"/>
<line x1="123.50" y1="396.00" x2="123.50" y2="415.30" stroke="#2a2a2a" stroke-width="0.8" />
<line x1="172.50" y1="396.00" x2="172.50" y2="415.30" stroke="#2a2a2a" stroke-width="0.8" />
<line x1="134.50" y1="396.00" x2="134.50" y2="415.30" stroke="#2a2a2a" stroke-width="0.9" />
<line x1="140.50" y1="396.00" x2="140.50" y2="415.30" stroke="#2a2a2a" stroke-width="0.9" />
<line x1="155.50" y1="396.00" x2="155.50" y2="415.30" stroke="#2a2a2a" stroke-width="0.9" />
<line x1="161.50" y1="396.00" x2="161.50" y2="415.30" stroke="#2a2a2a" stroke-width="0.9" />
<rect x="140.50" y="400.50" width="15.00" height="4.00" rx="0" fill="none" stroke="#2a2a2a" stroke-width="0.9"/>
<rect x="143.50" y="400.50" width="9.00" height="4.00" rx="0" fill="none" stroke="#2a2a2a" stroke-width="0.8"/>
<g transform="translate(148.20,0.00)"><path d="M-27.2,415.3 L-24,418.6 L23.6,418.6 L26.8,415.3" fill="none" stroke="#2a2a2a" stroke-width="0.9" /></g>
<line x1="128.20" y1="419.00" x2="168.00" y2="419.00" stroke="#2a2a2a" stroke-width="1.8" />
<g transform="translate(225.45,0.00)"><path d="M-11.8,19.6 L-11.8,15.8 Q-11.8,14.2 -10.2,14.2 L10.3,14.2 Q11.9,14.2 11.9,15.8 L11.9,19.6 L10.4,19.6 L9.6,17.2 L-9.5,17.2 L-10.3,19.6 Z" fill="#2a2a2a" stroke="#2a2a2a" stroke-width="0.6" /></g>
<g transform="translate(225.45,0.00)"><path d="M-8.6,15.3 h2.2 v1.2 h-2.2 Z" fill="#fff" stroke="#2a2a2a" stroke-width="0" /></g>
<g transform="translate(225.45,0.00)"><path d="M-4.1,15.3 h2.2 v1.2 h-2.2 Z" fill="#fff" stroke="#2a2a2a" stroke-width="0" /></g>
<g transform="translate(225.45,0.00)"><path d="M1.6,15.3 h2.2 v1.2 h-2.2 Z" fill="#fff" stroke="#2a2a2a" stroke-width="0" /></g>
<g transform="translate(225.45,0.00)"><path d="M6.7,15.3 h2.2 v1.2 h-2.2 Z" fill="#fff" stroke="#2a2a2a" stroke-width="0" /></g>
<g transform="translate(225.45,0.00)"><path d="M-7.9,17 L-6.8,19.8 L-5.6000000000000005,19.8 L-4.5,17 Z" fill="#2a2a2a" stroke="#2a2a2a" stroke-width="0.4" /></g>
<g transform="translate(225.45,0.00)"><path d="M-1.9,17 L-0.8,19.8 L0.39999999999999997,19.8 L1.5,17 Z" fill="#2a2a2a" stroke="#2a2a2a" stroke-width="0.4" /></g>
<g transform="translate(225.45,0.00)"><path d="M4.1,17 L5.2,19.8 L6.3999999999999995,19.8 L7.5,17 Z" fill="#2a2a2a" stroke="#2a2a2a" stroke-width="0.4" /></g>
<line x1="213.50" y1="16.00" x2="213.50" y2="57.70" stroke="#2a2a2a" stroke-width="1.0" />
<line x1="237.50" y1="16.00" x2="237.50" y2="57.70" stroke="#2a2a2a" stroke-width="1.0" />
<rect x="211.50" y="57.50" width="27.00" height="13.00" rx="0" fill="none" stroke="#2a2a2a" stroke-width="1.0"/>
<g transform="translate(225.45,0.00)"><path d="M-13.9,62.4 L-5,62.4 Q-3.3,64.3 -5,66.2 L-13.9,66.2" fill="none" stroke="#2a2a2a" stroke-width="0.9" /></g>
<g transform="translate(225.45,0.00)"><path d="M13.5,62.4 L4.6,62.4 Q2.9,64.3 4.6,66.2 L13.5,66.2" fill="none" stroke="#2a2a2a" stroke-width="0.9" /></g>
<rect x="204.50" y="70.50" width="42.00" height="13.00" rx="0" fill="none" stroke="#2a2a2a" stroke-width="1.0"/>
<line x1="204.05" y1="71.00" x2="246.25" y2="71.00" stroke="#2a2a2a" stroke-width="1.6" />
<line x1="209.50" y1="70.60" x2="209.50" y2="83.80" stroke="#2a2a2a" stroke-width="0.9" />
<line x1="210.50" y1="70.60" x2="210.50" y2="83.80" stroke="#2a2a2a" stroke-width="0.9" />
<line x1="230.50" y1="70.60" x2="230.50" y2="83.80" stroke="#2a2a2a" stroke-width="0.9" />
<line x1="231.50" y1="70.60" x2="231.50" y2="83.80" stroke="#2a2a2a" stroke-width="0.9" />
<rect x="202.50" y="83.50" width="45.00" height="13.00" rx="0" fill="none" stroke="#2a2a2a" stroke-width="1.0"/>
<line x1="202.25" y1="84.00" x2="247.75" y2="84.00" stroke="#2a2a2a" stroke-width="1.6" />
<line x1="209.00" y1="83.80" x2="209.00" y2="90.20" stroke="#2a2a2a" stroke-width="1.5" />
<line x1="231.00" y1="83.80" x2="231.00" y2="90.20" stroke="#2a2a2a" stroke-width="1.5" />
<line x1="202.25" y1="96.50" x2="247.75" y2="96.50" stroke="#2a2a2a" stroke-width="1.4" />
<rect x="197.50" y="93.50" width="4.00" height="3.00" rx="0" fill="none" stroke="#2a2a2a" stroke-width="0.9"/>
<rect x="246.50" y="93.50" width="7.00" height="3.00" rx="0" fill="none" stroke="#2a2a2a" stroke-width="0.9"/>
<rect x="202.50" y="158.50" width="46.00" height="9.00" rx="0" fill="none" stroke="#2a2a2a" stroke-width="1.0"/>
<line x1="211.50" y1="159.00" x2="211.50" y2="167.20" stroke="#2a2a2a" stroke-width="0.9" />
<line x1="216.50" y1="159.00" x2="216.50" y2="167.20" stroke="#2a2a2a" stroke-width="0.9" />
<line x1="233.50" y1="159.00" x2="233.50" y2="167.20" stroke="#2a2a2a" stroke-width="0.9" />
<line x1="239.50" y1="159.00" x2="239.50" y2="167.20" stroke="#2a2a2a" stroke-width="0.9" />
<g transform="translate(225.45,159.00)"><path d="M-8.5,0.6 Q0,-0.8 8.5,0.6" fill="none" stroke="#2a2a2a" stroke-width="0.7" /></g>
<g transform="translate(225.45,159.00)"><path d="M-8.5,7.6 Q0,9.0 8.5,7.6" fill="none" stroke="#2a2a2a" stroke-width="0.7" /></g>
<rect x="206.50" y="167.50" width="37.00" height="4.00" rx="0" fill="none" stroke="#2a2a2a" stroke-width="0.9"/>
<g transform="translate(225.45,159.00)"><path d="M-19.8,12.3 L19.9,12.3 L21.3,13.40 L19.9,14.53 L21.3,15.63 L19.9,16.76 L21.3,17.86 L19.9,18.99 L21.3,20.09 L19.9,21.22 L21.3,22.32 L19.9,23.45 L21.3,24.55 L19.9,25.68 L-19.8,25.7 L-21.2,24.60 L-19.8,23.47 L-21.2,22.37 L-19.8,21.24 L-21.2,20.14 L-19.8,19.01 L-21.2,17.91 L-19.8,16.78 L-21.2,15.68 L-19.8,14.55 L-21.2,13.45 L-19.8,12.32 Z" fill="#1e1e1e" stroke="#2a2a2a" stroke-width="0.6" /></g>
<rect x="202.50" y="481.50" width="46.00" height="8.00" rx="0" fill="none" stroke="#2a2a2a" stroke-width="1.0"/>
<line x1="211.50" y1="481.60" x2="211.50" y2="489.80" stroke="#2a2a2a" stroke-width="0.9" />
<line x1="216.50" y1="481.60" x2="216.50" y2="489.80" stroke="#2a2a2a" stroke-width="0.9" />
<line x1="233.50" y1="481.60" x2="233.50" y2="489.80" stroke="#2a2a2a" stroke-width="0.9" />
<line x1="239.50" y1="481.60" x2="239.50" y2="489.80" stroke="#2a2a2a" stroke-width="0.9" />
<g transform="translate(225.45,481.60)"><path d="M-8.5,0.6 Q0,-0.8 8.5,0.6" fill="none" stroke="#2a2a2a" stroke-width="0.7" /></g>
<g transform="translate(225.45,481.60)"><path d="M-8.5,7.6 Q0,9.0 8.5,7.6" fill="none" stroke="#2a2a2a" stroke-width="0.7" /></g>
<rect x="206.50" y="489.50" width="37.00" height="4.00" rx="0" fill="none" stroke="#2a2a2a" stroke-width="0.9"/>
<g transform="translate(225.45,481.60)"><path d="M-19.8,12.3 L19.9,12.3 L21.3,13.40 L19.9,14.53 L21.3,15.63 L19.9,16.76 L21.3,17.86 L19.9,18.99 L21.3,20.09 L19.9,21.22 L21.3,22.32 L19.9,23.45 L21.3,24.55 L19.9,25.68 L-19.8,25.7 L-21.2,24.60 L-19.8,23.47 L-21.2,22.37 L-19.8,21.24 L-21.2,20.14 L-19.8,19.01 L-21.2,17.91 L-19.8,16.78 L-21.2,15.68 L-19.8,14.55 L-21.2,13.45 L-19.8,12.32 Z" fill="#1e1e1e" stroke="#2a2a2a" stroke-width="0.6" /></g>
<g transform="translate(225.45,0.00)"><path d="M-13.2,348.8 L12.8,348.8 L24.3,365.5 L-25.2,365.5 Z" fill="none" stroke="#2a2a2a" stroke-width="1.0" /></g>
<rect x="200.00" y="366.00" width="3.00" height="26.00" fill="#b0b0b0"/>
<rect x="247.00" y="366.00" width="3.00" height="26.00" fill="#b0b0b0"/>
<line x1="206.25" y1="359.00" x2="202.25" y2="364.50" stroke="#2a2a2a" stroke-width="1.8" />
<line x1="243.75" y1="359.00" x2="247.75" y2="364.50" stroke="#2a2a2a" stroke-width="1.8" />
<line x1="200.50" y1="365.50" x2="200.50" y2="392.00" stroke="#2a2a2a" stroke-width="0.9" />
<line x1="202.50" y1="365.50" x2="202.50" y2="392.00" stroke="#2a2a2a" stroke-width="0.9" />
<line x1="204.50" y1="365.50" x2="204.50" y2="392.00" stroke="#2a2a2a" stroke-width="0.9" />
<line x1="210.50" y1="365.50" x2="210.50" y2="392.00" stroke="#2a2a2a" stroke-width="1.4" />
<line x1="215.50" y1="365.50" x2="215.50" y2="392.00" stroke="#2a2a2a" stroke-width="0.9" />
<line x1="221.50" y1="365.50" x2="221.50" y2="392.00" stroke="#2a2a2a" stroke-width="0.9" />
<line x1="227.50" y1="365.50" x2="227.50" y2="392.00" stroke="#2a2a2a" stroke-width="0.9" />
<line x1="234.50" y1="365.50" x2="234.50" y2="392.00" stroke="#2a2a2a" stroke-width="0.9" />
<line x1="239.50" y1="365.50" x2="239.50" y2="392.00" stroke="#2a2a2a" stroke-width="1.4" />
<line x1="244.50" y1="365.50" x2="244.50" y2="392.00" stroke="#2a2a2a" stroke-width="0.9" />
<line x1="247.50" y1="365.50" x2="247.50" y2="392.00" stroke="#2a2a2a" stroke-width="0.9" />
<line x1="249.50" y1="365.50" x2="249.50" y2="392.00" stroke="#2a2a2a" stroke-width="0.9" />
<g transform="translate(225.45,0.00)"><path d="M-20.7,365.5 L-15.7,358.5 L-13.2,358.5 L-15.2,365.5" fill="none" stroke="#2a2a2a" stroke-width="0.9" /></g>
<g transform="translate(225.45,0.00)"><path d="M-10.2,365.5 L-8.2,358.5 L-3.7,358.5 L-3.7,365.5" fill="none" stroke="#2a2a2a" stroke-width="0.9" /></g>
<g transform="translate(225.45,0.00)"><path d="M2.3,365.5 L2.3,358.5 L6.8,358.5 L8.8,365.5" fill="none" stroke="#2a2a2a" stroke-width="0.9" /></g>
<g transform="translate(225.45,0.00)"><path d="M14.3,365.5 L12.3,358.5 L14.8,358.5 L19.3,365.5" fill="none" stroke="#2a2a2a" stroke-width="0.9" /></g>
<rect x="198.50" y="392.50" width="53.00" height="4.00" rx="0" fill="none" stroke="#2a2a2a" stroke-width="1.0"/>
<rect x="198.50" y="396.50" width="54.00" height="19.00" rx="0" fill="none" stroke="#2a2a2a" stroke-width="1.0"/>
<line x1="200.50" y1="396.00" x2="200.50" y2="415.30" stroke="#2a2a2a" stroke-width="0.8" />
<line x1="249.50" y1="396.00" x2="249.50" y2="415.30" stroke="#2a2a2a" stroke-width="0.8" />
<line x1="211.50" y1="396.00" x2="211.50" y2="415.30" stroke="#2a2a2a" stroke-width="0.9" />
<line x1="217.50" y1="396.00" x2="217.50" y2="415.30" stroke="#2a2a2a" stroke-width="0.9" />
<line x1="232.50" y1="396.00" x2="232.50" y2="415.30" stroke="#2a2a2a" stroke-width="0.9" />
<line x1="238.50" y1="396.00" x2="238.50" y2="415.30" stroke="#2a2a2a" stroke-width="0.9" />
<rect x="217.50" y="400.50" width="15.00" height="4.00" rx="0" fill="none" stroke="#2a2a2a" stroke-width="0.9"/>
<rect x="220.50" y="400.50" width="9.00" height="4.00" rx="0" fill="none" stroke="#2a2a2a" stroke-width="0.8"/>
<g transform="translate(225.45,0.00)"><path d="M-27.2,415.3 L-24,418.6 L23.6,418.6 L26.8,415.3" fill="none" stroke="#2a2a2a" stroke-width="0.9" /></g>
<line x1="205.45" y1="419.00" x2="245.25" y2="419.00" stroke="#2a2a2a" stroke-width="1.8" />
<g transform="translate(302.70,0.00)"><path d="M-11.8,19.6 L-11.8,15.8 Q-11.8,14.2 -10.2,14.2 L10.3,14.2 Q11.9,14.2 11.9,15.8 L11.9,19.6 L10.4,19.6 L9.6,17.2 L-9.5,17.2 L-10.3,19.6 Z" fill="#2a2a2a" stroke="#2a2a2a" stroke-width="0.6" /></g>
<g transform="translate(302.70,0.00)"><path d="M-8.6,15.3 h2.2 v1.2 h-2.2 Z" fill="#fff" stroke="#2a2a2a" stroke-width="0" /></g>
<g transform="translate(302.70,0.00)"><path d="M-4.1,15.3 h2.2 v1.2 h-2.2 Z" fill="#fff" stroke="#2a2a2a" stroke-width="0" /></g>
<g transform="translate(302.70,0.00)"><path d="M1.6,15.3 h2.2 v1.2 h-2.2 Z" fill="#fff" stroke="#2a2a2a" stroke-width="0" /></g>
<g transform="translate(302.70,0.00)"><path d="M6.7,15.3 h2.2 v1.2 h-2.2 Z" fill="#fff" stroke="#2a2a2a" stroke-width="0" /></g>
<g transform="translate(302.70,0.00)"><path d="M-7.9,17 L-6.8,19.8 L-5.6000000000000005,19.8 L-4.5,17 Z" fill="#2a2a2a" stroke="#2a2a2a" stroke-width="0.4" /></g>
<g transform="translate(302.70,0.00)"><path d="M-1.9,17 L-0.8,19.8 L0.39999999999999997,19.8 L1.5,17 Z" fill="#2a2a2a" stroke="#2a2a2a" stroke-width="0.4" /></g>
<g transform="translate(302.70,0.00)"><path d="M4.1,17 L5.2,19.8 L6.3999999999999995,19.8 L7.5,17 Z" fill="#2a2a2a" stroke="#2a2a2a" stroke-width="0.4" /></g>
<line x1="291.50" y1="16.00" x2="291.50" y2="57.70" stroke="#2a2a2a" stroke-width="1.0" />
<line x1="314.50" y1="16.00" x2="314.50" y2="57.70" stroke="#2a2a2a" stroke-width="1.0" />
<rect x="288.50" y="57.50" width="28.00" height="13.00" rx="0" fill="none" stroke="#2a2a2a" stroke-width="1.0"/>
<g transform="translate(302.70,0.00)"><path d="M-13.9,62.4 L-5,62.4 Q-3.3,64.3 -5,66.2 L-13.9,66.2" fill="none" stroke="#2a2a2a" stroke-width="0.9" /></g>
<g transform="translate(302.70,0.00)"><path d="M13.5,62.4 L4.6,62.4 Q2.9,64.3 4.6,66.2 L13.5,66.2" fill="none" stroke="#2a2a2a" stroke-width="0.9" /></g>
<rect x="281.50" y="70.50" width="42.00" height="13.00" rx="0" fill="none" stroke="#2a2a2a" stroke-width="1.0"/>
<line x1="281.30" y1="71.00" x2="323.50" y2="71.00" stroke="#2a2a2a" stroke-width="1.6" />
<line x1="286.50" y1="70.60" x2="286.50" y2="83.80" stroke="#2a2a2a" stroke-width="0.9" />
<line x1="288.50" y1="70.60" x2="288.50" y2="83.80" stroke="#2a2a2a" stroke-width="0.9" />
<line x1="307.50" y1="70.60" x2="307.50" y2="83.80" stroke="#2a2a2a" stroke-width="0.9" />
<line x1="308.50" y1="70.60" x2="308.50" y2="83.80" stroke="#2a2a2a" stroke-width="0.9" />
<rect x="279.50" y="83.50" width="45.00" height="13.00" rx="0" fill="none" stroke="#2a2a2a" stroke-width="1.0"/>
<line x1="279.50" y1="84.00" x2="325.00" y2="84.00" stroke="#2a2a2a" stroke-width="1.6" />
<line x1="286.00" y1="83.80" x2="286.00" y2="90.20" stroke="#2a2a2a" stroke-width="1.5" />
<line x1="309.00" y1="83.80" x2="309.00" y2="90.20" stroke="#2a2a2a" stroke-width="1.5" />
<line x1="279.50" y1="96.50" x2="325.00" y2="96.50" stroke="#2a2a2a" stroke-width="1.4" />
<rect x="274.50" y="93.50" width="5.00" height="3.00" rx="0" fill="none" stroke="#2a2a2a" stroke-width="0.9"/>
<rect x="323.50" y="93.50" width="7.00" height="3.00" rx="0" fill="none" stroke="#2a2a2a" stroke-width="0.9"/>
<rect x="279.50" y="158.50" width="46.00" height="9.00" rx="0" fill="none" stroke="#2a2a2a" stroke-width="1.0"/>
<line x1="288.50" y1="159.00" x2="288.50" y2="167.20" stroke="#2a2a2a" stroke-width="0.9" />
<line x1="294.50" y1="159.00" x2="294.50" y2="167.20" stroke="#2a2a2a" stroke-width="0.9" />
<line x1="311.50" y1="159.00" x2="311.50" y2="167.20" stroke="#2a2a2a" stroke-width="0.9" />
<line x1="316.50" y1="159.00" x2="316.50" y2="167.20" stroke="#2a2a2a" stroke-width="0.9" />
<g transform="translate(302.70,159.00)"><path d="M-8.5,0.6 Q0,-0.8 8.5,0.6" fill="none" stroke="#2a2a2a" stroke-width="0.7" /></g>
<g transform="translate(302.70,159.00)"><path d="M-8.5,7.6 Q0,9.0 8.5,7.6" fill="none" stroke="#2a2a2a" stroke-width="0.7" /></g>
<rect x="283.50" y="167.50" width="37.00" height="4.00" rx="0" fill="none" stroke="#2a2a2a" stroke-width="0.9"/>
<g transform="translate(302.70,159.00)"><path d="M-19.8,12.3 L19.9,12.3 L21.3,13.40 L19.9,14.53 L21.3,15.63 L19.9,16.76 L21.3,17.86 L19.9,18.99 L21.3,20.09 L19.9,21.22 L21.3,22.32 L19.9,23.45 L21.3,24.55 L19.9,25.68 L-19.8,25.7 L-21.2,24.60 L-19.8,23.47 L-21.2,22.37 L-19.8,21.24 L-21.2,20.14 L-19.8,19.01 L-21.2,17.91 L-19.8,16.78 L-21.2,15.68 L-19.8,14.55 L-21.2,13.45 L-19.8,12.32 Z" fill="#1e1e1e" stroke="#2a2a2a" stroke-width="0.6" /></g>
<rect x="279.50" y="481.50" width="46.00" height="8.00" rx="0" fill="none" stroke="#2a2a2a" stroke-width="1.0"/>
<line x1="288.50" y1="481.60" x2="288.50" y2="489.80" stroke="#2a2a2a" stroke-width="0.9" />
<line x1="294.50" y1="481.60" x2="294.50" y2="489.80" stroke="#2a2a2a" stroke-width="0.9" />
<line x1="311.50" y1="481.60" x2="311.50" y2="489.80" stroke="#2a2a2a" stroke-width="0.9" />
<line x1="316.50" y1="481.60" x2="316.50" y2="489.80" stroke="#2a2a2a" stroke-width="0.9" />
<g transform="translate(302.70,481.60)"><path d="M-8.5,0.6 Q0,-0.8 8.5,0.6" fill="none" stroke="#2a2a2a" stroke-width="0.7" /></g>
<g transform="translate(302.70,481.60)"><path d="M-8.5,7.6 Q0,9.0 8.5,7.6" fill="none" stroke="#2a2a2a" stroke-width="0.7" /></g>
<rect x="283.50" y="489.50" width="37.00" height="4.00" rx="0" fill="none" stroke="#2a2a2a" stroke-width="0.9"/>
<g transform="translate(302.70,481.60)"><path d="M-19.8,12.3 L19.9,12.3 L21.3,13.40 L19.9,14.53 L21.3,15.63 L19.9,16.76 L21.3,17.86 L19.9,18.99 L21.3,20.09 L19.9,21.22 L21.3,22.32 L19.9,23.45 L21.3,24.55 L19.9,25.68 L-19.8,25.7 L-21.2,24.60 L-19.8,23.47 L-21.2,22.37 L-19.8,21.24 L-21.2,20.14 L-19.8,19.01 L-21.2,17.91 L-19.8,16.78 L-21.2,15.68 L-19.8,14.55 L-21.2,13.45 L-19.8,12.32 Z" fill="#1e1e1e" stroke="#2a2a2a" stroke-width="0.6" /></g>
<g transform="translate(302.70,0.00)"><path d="M-13.2,348.8 L12.8,348.8 L24.3,365.5 L-25.2,365.5 Z" fill="none" stroke="#2a2a2a" stroke-width="1.0" /></g>
<rect x="278.00" y="366.00" width="2.00" height="26.00" fill="#b0b0b0"/>
<rect x="324.00" y="366.00" width="3.00" height="26.00" fill="#b0b0b0"/>
<line x1="283.50" y1="359.00" x2="279.50" y2="364.50" stroke="#2a2a2a" stroke-width="1.8" />
<line x1="321.00" y1="359.00" x2="325.00" y2="364.50" stroke="#2a2a2a" stroke-width="1.8" />
<line x1="277.50" y1="365.50" x2="277.50" y2="392.00" stroke="#2a2a2a" stroke-width="0.9" />
<line x1="280.50" y1="365.50" x2="280.50" y2="392.00" stroke="#2a2a2a" stroke-width="0.9" />
<line x1="282.50" y1="365.50" x2="282.50" y2="392.00" stroke="#2a2a2a" stroke-width="0.9" />
<line x1="287.50" y1="365.50" x2="287.50" y2="392.00" stroke="#2a2a2a" stroke-width="1.4" />
<line x1="292.50" y1="365.50" x2="292.50" y2="392.00" stroke="#2a2a2a" stroke-width="0.9" />
<line x1="298.50" y1="365.50" x2="298.50" y2="392.00" stroke="#2a2a2a" stroke-width="0.9" />
<line x1="304.50" y1="365.50" x2="304.50" y2="392.00" stroke="#2a2a2a" stroke-width="0.9" />
<line x1="311.50" y1="365.50" x2="311.50" y2="392.00" stroke="#2a2a2a" stroke-width="0.9" />
<line x1="316.50" y1="365.50" x2="316.50" y2="392.00" stroke="#2a2a2a" stroke-width="1.4" />
<line x1="322.50" y1="365.50" x2="322.50" y2="392.00" stroke="#2a2a2a" stroke-width="0.9" />
<line x1="324.50" y1="365.50" x2="324.50" y2="392.00" stroke="#2a2a2a" stroke-width="0.9" />
<line x1="326.50" y1="365.50" x2="326.50" y2="392.00" stroke="#2a2a2a" stroke-width="0.9" />
<g transform="translate(302.70,0.00)"><path d="M-20.7,365.5 L-15.7,358.5 L-13.2,358.5 L-15.2,365.5" fill="none" stroke="#2a2a2a" stroke-width="0.9" /></g>
<g transform="translate(302.70,0.00)"><path d="M-10.2,365.5 L-8.2,358.5 L-3.7,358.5 L-3.7,365.5" fill="none" stroke="#2a2a2a" stroke-width="0.9" /></g>
<g transform="translate(302.70,0.00)"><path d="M2.3,365.5 L2.3,358.5 L6.8,358.5 L8.8,365.5" fill="none" stroke="#2a2a2a" stroke-width="0.9" /></g>
<g transform="translate(302.70,0.00)"><path d="M14.3,365.5 L12.3,358.5 L14.8,358.5 L19.3,365.5" fill="none" stroke="#2a2a2a" stroke-width="0.9" /></g>
<rect x="276.50" y="392.50" width="52.00" height="4.00" rx="0" fill="none" stroke="#2a2a2a" stroke-width="1.0"/>
<rect x="275.50" y="396.50" width="54.00" height="19.00" rx="0" fill="none" stroke="#2a2a2a" stroke-width="1.0"/>
<line x1="278.50" y1="396.00" x2="278.50" y2="415.30" stroke="#2a2a2a" stroke-width="0.8" />
<line x1="326.50" y1="396.00" x2="326.50" y2="415.30" stroke="#2a2a2a" stroke-width="0.8" />
<line x1="289.50" y1="396.00" x2="289.50" y2="415.30" stroke="#2a2a2a" stroke-width="0.9" />
<line x1="294.50" y1="396.00" x2="294.50" y2="415.30" stroke="#2a2a2a" stroke-width="0.9" />
<line x1="310.50" y1="396.00" x2="310.50" y2="415.30" stroke="#2a2a2a" stroke-width="0.9" />
<line x1="315.50" y1="396.00" x2="315.50" y2="415.30" stroke="#2a2a2a" stroke-width="0.9" />
<rect x="294.50" y="400.50" width="16.00" height="4.00" rx="0" fill="none" stroke="#2a2a2a" stroke-width="0.9"/>
<rect x="298.50" y="400.50" width="8.00" height="4.00" rx="0" fill="none" stroke="#2a2a2a" stroke-width="0.8"/>
<g transform="translate(302.70,0.00)"><path d="M-27.2,415.3 L-24,418.6 L23.6,418.6 L26.8,415.3" fill="none" stroke="#2a2a2a" stroke-width="0.9" /></g>
<line x1="282.70" y1="419.00" x2="322.50" y2="419.00" stroke="#2a2a2a" stroke-width="1.8" />
<g transform="translate(379.95,0.00)"><path d="M-11.8,19.6 L-11.8,15.8 Q-11.8,14.2 -10.2,14.2 L10.3,14.2 Q11.9,14.2 11.9,15.8 L11.9,19.6 L10.4,19.6 L9.6,17.2 L-9.5,17.2 L-10.3,19.6 Z" fill="#2a2a2a" stroke="#2a2a2a" stroke-width="0.6" /></g>
<g transform="translate(379.95,0.00)"><path d="M-8.6,15.3 h2.2 v1.2 h-2.2 Z" fill="#fff" stroke="#2a2a2a" stroke-width="0" /></g>
<g transform="translate(379.95,0.00)"><path d="M-4.1,15.3 h2.2 v1.2 h-2.2 Z" fill="#fff" stroke="#2a2a2a" stroke-width="0" /></g>
<g transform="translate(379.95,0.00)"><path d="M1.6,15.3 h2.2 v1.2 h-2.2 Z" fill="#fff" stroke="#2a2a2a" stroke-width="0" /></g>
<g transform="translate(379.95,0.00)"><path d="M6.7,15.3 h2.2 v1.2 h-2.2 Z" fill="#fff" stroke="#2a2a2a" stroke-width="0" /></g>
<g transform="translate(379.95,0.00)"><path d="M-7.9,17 L-6.8,19.8 L-5.6000000000000005,19.8 L-4.5,17 Z" fill="#2a2a2a" stroke="#2a2a2a" stroke-width="0.4" /></g>
<g transform="translate(379.95,0.00)"><path d="M-1.9,17 L-0.8,19.8 L0.39999999999999997,19.8 L1.5,17 Z" fill="#2a2a2a" stroke="#2a2a2a" stroke-width="0.4" /></g>
<g transform="translate(379.95,0.00)"><path d="M4.1,17 L5.2,19.8 L6.3999999999999995,19.8 L7.5,17 Z" fill="#2a2a2a" stroke="#2a2a2a" stroke-width="0.4" /></g>
<line x1="368.50" y1="16.00" x2="368.50" y2="57.70" stroke="#2a2a2a" stroke-width="1.0" />
<line x1="391.50" y1="16.00" x2="391.50" y2="57.70" stroke="#2a2a2a" stroke-width="1.0" />
<rect x="366.50" y="57.50" width="27.00" height="13.00" rx="0" fill="none" stroke="#2a2a2a" stroke-width="1.0"/>
<g transform="translate(379.95,0.00)"><path d="M-13.9,62.4 L-5,62.4 Q-3.3,64.3 -5,66.2 L-13.9,66.2" fill="none" stroke="#2a2a2a" stroke-width="0.9" /></g>
<g transform="translate(379.95,0.00)"><path d="M13.5,62.4 L4.6,62.4 Q2.9,64.3 4.6,66.2 L13.5,66.2" fill="none" stroke="#2a2a2a" stroke-width="0.9" /></g>
<rect x="358.50" y="70.50" width="42.00" height="13.00" rx="0" fill="none" stroke="#2a2a2a" stroke-width="1.0"/>
<line x1="358.55" y1="71.00" x2="400.75" y2="71.00" stroke="#2a2a2a" stroke-width="1.6" />
<line x1="364.50" y1="70.60" x2="364.50" y2="83.80" stroke="#2a2a2a" stroke-width="0.9" />
<line x1="365.50" y1="70.60" x2="365.50" y2="83.80" stroke="#2a2a2a" stroke-width="0.9" />
<line x1="385.50" y1="70.60" x2="385.50" y2="83.80" stroke="#2a2a2a" stroke-width="0.9" />
<line x1="386.50" y1="70.60" x2="386.50" y2="83.80" stroke="#2a2a2a" stroke-width="0.9" />
<rect x="356.50" y="83.50" width="46.00" height="13.00" rx="0" fill="none" stroke="#2a2a2a" stroke-width="1.0"/>
<line x1="356.75" y1="84.00" x2="402.25" y2="84.00" stroke="#2a2a2a" stroke-width="1.6" />
<line x1="363.00" y1="83.80" x2="363.00" y2="90.20" stroke="#2a2a2a" stroke-width="1.5" />
<line x1="386.00" y1="83.80" x2="386.00" y2="90.20" stroke="#2a2a2a" stroke-width="1.5" />
<line x1="356.75" y1="96.50" x2="402.25" y2="96.50" stroke="#2a2a2a" stroke-width="1.4" />
<rect x="351.50" y="93.50" width="5.00" height="3.00" rx="0" fill="none" stroke="#2a2a2a" stroke-width="0.9"/>
<rect x="400.50" y="93.50" width="7.00" height="3.00" rx="0" fill="none" stroke="#2a2a2a" stroke-width="0.9"/>
<rect x="356.50" y="158.50" width="46.00" height="9.00" rx="0" fill="none" stroke="#2a2a2a" stroke-width="1.0"/>
<line x1="365.50" y1="159.00" x2="365.50" y2="167.20" stroke="#2a2a2a" stroke-width="0.9" />
<line x1="371.50" y1="159.00" x2="371.50" y2="167.20" stroke="#2a2a2a" stroke-width="0.9" />
<line x1="388.50" y1="159.00" x2="388.50" y2="167.20" stroke="#2a2a2a" stroke-width="0.9" />
<line x1="394.50" y1="159.00" x2="394.50" y2="167.20" stroke="#2a2a2a" stroke-width="0.9" />
<g transform="translate(379.95,159.00)"><path d="M-8.5,0.6 Q0,-0.8 8.5,0.6" fill="none" stroke="#2a2a2a" stroke-width="0.7" /></g>
<g transform="translate(379.95,159.00)"><path d="M-8.5,7.6 Q0,9.0 8.5,7.6" fill="none" stroke="#2a2a2a" stroke-width="0.7" /></g>
<rect x="360.50" y="167.50" width="37.00" height="4.00" rx="0" fill="none" stroke="#2a2a2a" stroke-width="0.9"/>
<g transform="translate(379.95,159.00)"><path d="M-19.8,12.3 L19.9,12.3 L21.3,13.40 L19.9,14.53 L21.3,15.63 L19.9,16.76 L21.3,17.86 L19.9,18.99 L21.3,20.09 L19.9,21.22 L21.3,22.32 L19.9,23.45 L21.3,24.55 L19.9,25.68 L-19.8,25.7 L-21.2,24.60 L-19.8,23.47 L-21.2,22.37 L-19.8,21.24 L-21.2,20.14 L-19.8,19.01 L-21.2,17.91 L-19.8,16.78 L-21.2,15.68 L-19.8,14.55 L-21.2,13.45 L-19.8,12.32 Z" fill="#1e1e1e" stroke="#2a2a2a" stroke-width="0.6" /></g>
<rect x="356.50" y="481.50" width="46.00" height="8.00" rx="0" fill="none" stroke="#2a2a2a" stroke-width="1.0"/>
<line x1="365.50" y1="481.60" x2="365.50" y2="489.80" stroke="#2a2a2a" stroke-width="0.9" />
<line x1="371.50" y1="481.60" x2="371.50" y2="489.80" stroke="#2a2a2a" stroke-width="0.9" />
<line x1="388.50" y1="481.60" x2="388.50" y2="489.80" stroke="#2a2a2a" stroke-width="0.9" />
<line x1="394.50" y1="481.60" x2="394.50" y2="489.80" stroke="#2a2a2a" stroke-width="0.9" />
<g transform="translate(379.95,481.60)"><path d="M-8.5,0.6 Q0,-0.8 8.5,0.6" fill="none" stroke="#2a2a2a" stroke-width="0.7" /></g>
<g transform="translate(379.95,481.60)"><path d="M-8.5,7.6 Q0,9.0 8.5,7.6" fill="none" stroke="#2a2a2a" stroke-width="0.7" /></g>
<rect x="360.50" y="489.50" width="37.00" height="4.00" rx="0" fill="none" stroke="#2a2a2a" stroke-width="0.9"/>
<g transform="translate(379.95,481.60)"><path d="M-19.8,12.3 L19.9,12.3 L21.3,13.40 L19.9,14.53 L21.3,15.63 L19.9,16.76 L21.3,17.86 L19.9,18.99 L21.3,20.09 L19.9,21.22 L21.3,22.32 L19.9,23.45 L21.3,24.55 L19.9,25.68 L-19.8,25.7 L-21.2,24.60 L-19.8,23.47 L-21.2,22.37 L-19.8,21.24 L-21.2,20.14 L-19.8,19.01 L-21.2,17.91 L-19.8,16.78 L-21.2,15.68 L-19.8,14.55 L-21.2,13.45 L-19.8,12.32 Z" fill="#1e1e1e" stroke="#2a2a2a" stroke-width="0.6" /></g>
<g transform="translate(379.95,0.00)"><path d="M-13.2,348.8 L12.8,348.8 L24.3,365.5 L-25.2,365.5 Z" fill="none" stroke="#2a2a2a" stroke-width="1.0" /></g>
<rect x="355.00" y="366.00" width="2.00" height="26.00" fill="#b0b0b0"/>
<rect x="402.00" y="366.00" width="2.00" height="26.00" fill="#b0b0b0"/>
<line x1="360.75" y1="359.00" x2="356.75" y2="364.50" stroke="#2a2a2a" stroke-width="1.8" />
<line x1="398.25" y1="359.00" x2="402.25" y2="364.50" stroke="#2a2a2a" stroke-width="1.8" />
<line x1="354.50" y1="365.50" x2="354.50" y2="392.00" stroke="#2a2a2a" stroke-width="0.9" />
<line x1="357.50" y1="365.50" x2="357.50" y2="392.00" stroke="#2a2a2a" stroke-width="0.9" />
<line x1="359.50" y1="365.50" x2="359.50" y2="392.00" stroke="#2a2a2a" stroke-width="0.9" />
<line x1="364.50" y1="365.50" x2="364.50" y2="392.00" stroke="#2a2a2a" stroke-width="1.4" />
<line x1="369.50" y1="365.50" x2="369.50" y2="392.00" stroke="#2a2a2a" stroke-width="0.9" />
<line x1="376.50" y1="365.50" x2="376.50" y2="392.00" stroke="#2a2a2a" stroke-width="0.9" />
<line x1="382.50" y1="365.50" x2="382.50" y2="392.00" stroke="#2a2a2a" stroke-width="0.9" />
<line x1="388.50" y1="365.50" x2="388.50" y2="392.00" stroke="#2a2a2a" stroke-width="0.9" />
<line x1="394.50" y1="365.50" x2="394.50" y2="392.00" stroke="#2a2a2a" stroke-width="1.4" />
<line x1="399.50" y1="365.50" x2="399.50" y2="392.00" stroke="#2a2a2a" stroke-width="0.9" />
<line x1="401.50" y1="365.50" x2="401.50" y2="392.00" stroke="#2a2a2a" stroke-width="0.9" />
<line x1="404.50" y1="365.50" x2="404.50" y2="392.00" stroke="#2a2a2a" stroke-width="0.9" />
<g transform="translate(379.95,0.00)"><path d="M-20.7,365.5 L-15.7,358.5 L-13.2,358.5 L-15.2,365.5" fill="none" stroke="#2a2a2a" stroke-width="0.9" /></g>
<g transform="translate(379.95,0.00)"><path d="M-10.2,365.5 L-8.2,358.5 L-3.7,358.5 L-3.7,365.5" fill="none" stroke="#2a2a2a" stroke-width="0.9" /></g>
<g transform="translate(379.95,0.00)"><path d="M2.3,365.5 L2.3,358.5 L6.8,358.5 L8.8,365.5" fill="none" stroke="#2a2a2a" stroke-width="0.9" /></g>
<g transform="translate(379.95,0.00)"><path d="M14.3,365.5 L12.3,358.5 L14.8,358.5 L19.3,365.5" fill="none" stroke="#2a2a2a" stroke-width="0.9" /></g>
<rect x="353.50" y="392.50" width="52.00" height="4.00" rx="0" fill="none" stroke="#2a2a2a" stroke-width="1.0"/>
<rect x="352.50" y="396.50" width="54.00" height="19.00" rx="0" fill="none" stroke="#2a2a2a" stroke-width="1.0"/>
<line x1="355.50" y1="396.00" x2="355.50" y2="415.30" stroke="#2a2a2a" stroke-width="0.8" />
<line x1="404.50" y1="396.00" x2="404.50" y2="415.30" stroke="#2a2a2a" stroke-width="0.8" />
<line x1="366.50" y1="396.00" x2="366.50" y2="415.30" stroke="#2a2a2a" stroke-width="0.9" />
<line x1="372.50" y1="396.00" x2="372.50" y2="415.30" stroke="#2a2a2a" stroke-width="0.9" />
<line x1="387.50" y1="396.00" x2="387.50" y2="415.30" stroke="#2a2a2a" stroke-width="0.9" />
<line x1="393.50" y1="396.00" x2="393.50" y2="415.30" stroke="#2a2a2a" stroke-width="0.9" />
<rect x="372.50" y="400.50" width="15.00" height="4.00" rx="0" fill="none" stroke="#2a2a2a" stroke-width="0.9"/>
<rect x="375.50" y="400.50" width="9.00" height="4.00" rx="0" fill="none" stroke="#2a2a2a" stroke-width="0.8"/>
<g transform="translate(379.95,0.00)"><path d="M-27.2,415.3 L-24,418.6 L23.6,418.6 L26.8,415.3" fill="none" stroke="#2a2a2a" stroke-width="0.9" /></g>
<line x1="359.95" y1="419.00" x2="399.75" y2="419.00" stroke="#2a2a2a" stroke-width="1.8" />
<g transform="translate(457.20,0.00)"><path d="M-11.8,19.6 L-11.8,15.8 Q-11.8,14.2 -10.2,14.2 L10.3,14.2 Q11.9,14.2 11.9,15.8 L11.9,19.6 L10.4,19.6 L9.6,17.2 L-9.5,17.2 L-10.3,19.6 Z" fill="#2a2a2a" stroke="#2a2a2a" stroke-width="0.6" /></g>
<g transform="translate(457.20,0.00)"><path d="M-8.6,15.3 h2.2 v1.2 h-2.2 Z" fill="#fff" stroke="#2a2a2a" stroke-width="0" /></g>
<g transform="translate(457.20,0.00)"><path d="M-4.1,15.3 h2.2 v1.2 h-2.2 Z" fill="#fff" stroke="#2a2a2a" stroke-width="0" /></g>
<g transform="translate(457.20,0.00)"><path d="M1.6,15.3 h2.2 v1.2 h-2.2 Z" fill="#fff" stroke="#2a2a2a" stroke-width="0" /></g>
<g transform="translate(457.20,0.00)"><path d="M6.7,15.3 h2.2 v1.2 h-2.2 Z" fill="#fff" stroke="#2a2a2a" stroke-width="0" /></g>
<g transform="translate(457.20,0.00)"><path d="M-7.9,17 L-6.8,19.8 L-5.6000000000000005,19.8 L-4.5,17 Z" fill="#2a2a2a" stroke="#2a2a2a" stroke-width="0.4" /></g>
<g transform="translate(457.20,0.00)"><path d="M-1.9,17 L-0.8,19.8 L0.39999999999999997,19.8 L1.5,17 Z" fill="#2a2a2a" stroke="#2a2a2a" stroke-width="0.4" /></g>
<g transform="translate(457.20,0.00)"><path d="M4.1,17 L5.2,19.8 L6.3999999999999995,19.8 L7.5,17 Z" fill="#2a2a2a" stroke="#2a2a2a" stroke-width="0.4" /></g>
<line x1="445.50" y1="16.00" x2="445.50" y2="57.70" stroke="#2a2a2a" stroke-width="1.0" />
<line x1="468.50" y1="16.00" x2="468.50" y2="57.70" stroke="#2a2a2a" stroke-width="1.0" />
<rect x="443.50" y="57.50" width="27.00" height="13.00" rx="0" fill="none" stroke="#2a2a2a" stroke-width="1.0"/>
<g transform="translate(457.20,0.00)"><path d="M-13.9,62.4 L-5,62.4 Q-3.3,64.3 -5,66.2 L-13.9,66.2" fill="none" stroke="#2a2a2a" stroke-width="0.9" /></g>
<g transform="translate(457.20,0.00)"><path d="M13.5,62.4 L4.6,62.4 Q2.9,64.3 4.6,66.2 L13.5,66.2" fill="none" stroke="#2a2a2a" stroke-width="0.9" /></g>
<rect x="435.50" y="70.50" width="43.00" height="13.00" rx="0" fill="none" stroke="#2a2a2a" stroke-width="1.0"/>
<line x1="435.80" y1="71.00" x2="478.00" y2="71.00" stroke="#2a2a2a" stroke-width="1.6" />
<line x1="441.50" y1="70.60" x2="441.50" y2="83.80" stroke="#2a2a2a" stroke-width="0.9" />
<line x1="442.50" y1="70.60" x2="442.50" y2="83.80" stroke="#2a2a2a" stroke-width="0.9" />
<line x1="462.50" y1="70.60" x2="462.50" y2="83.80" stroke="#2a2a2a" stroke-width="0.9" />
<line x1="463.50" y1="70.60" x2="463.50" y2="83.80" stroke="#2a2a2a" stroke-width="0.9" />
<rect x="434.50" y="83.50" width="45.00" height="13.00" rx="0" fill="none" stroke="#2a2a2a" stroke-width="1.0"/>
<line x1="434.00" y1="84.00" x2="479.50" y2="84.00" stroke="#2a2a2a" stroke-width="1.6" />
<line x1="441.00" y1="83.80" x2="441.00" y2="90.20" stroke="#2a2a2a" stroke-width="1.5" />
<line x1="463.00" y1="83.80" x2="463.00" y2="90.20" stroke="#2a2a2a" stroke-width="1.5" />
<line x1="434.00" y1="96.50" x2="479.50" y2="96.50" stroke="#2a2a2a" stroke-width="1.4" />
<rect x="428.50" y="93.50" width="5.00" height="3.00" rx="0" fill="none" stroke="#2a2a2a" stroke-width="0.9"/>
<rect x="478.50" y="93.50" width="6.00" height="3.00" rx="0" fill="none" stroke="#2a2a2a" stroke-width="0.9"/>
<rect x="434.50" y="158.50" width="46.00" height="9.00" rx="0" fill="none" stroke="#2a2a2a" stroke-width="1.0"/>
<line x1="442.50" y1="159.00" x2="442.50" y2="167.20" stroke="#2a2a2a" stroke-width="0.9" />
<line x1="448.50" y1="159.00" x2="448.50" y2="167.20" stroke="#2a2a2a" stroke-width="0.9" />
<line x1="465.50" y1="159.00" x2="465.50" y2="167.20" stroke="#2a2a2a" stroke-width="0.9" />
<line x1="471.50" y1="159.00" x2="471.50" y2="167.20" stroke="#2a2a2a" stroke-width="0.9" />
<g transform="translate(457.20,159.00)"><path d="M-8.5,0.6 Q0,-0.8 8.5,0.6" fill="none" stroke="#2a2a2a" stroke-width="0.7" /></g>
<g transform="translate(457.20,159.00)"><path d="M-8.5,7.6 Q0,9.0 8.5,7.6" fill="none" stroke="#2a2a2a" stroke-width="0.7" /></g>
<rect x="438.50" y="167.50" width="36.00" height="4.00" rx="0" fill="none" stroke="#2a2a2a" stroke-width="0.9"/>
<g transform="translate(457.20,159.00)"><path d="M-19.8,12.3 L19.9,12.3 L21.3,13.40 L19.9,14.53 L21.3,15.63 L19.9,16.76 L21.3,17.86 L19.9,18.99 L21.3,20.09 L19.9,21.22 L21.3,22.32 L19.9,23.45 L21.3,24.55 L19.9,25.68 L-19.8,25.7 L-21.2,24.60 L-19.8,23.47 L-21.2,22.37 L-19.8,21.24 L-21.2,20.14 L-19.8,19.01 L-21.2,17.91 L-19.8,16.78 L-21.2,15.68 L-19.8,14.55 L-21.2,13.45 L-19.8,12.32 Z" fill="#1e1e1e" stroke="#2a2a2a" stroke-width="0.6" /></g>
<rect x="434.50" y="481.50" width="46.00" height="8.00" rx="0" fill="none" stroke="#2a2a2a" stroke-width="1.0"/>
<line x1="442.50" y1="481.60" x2="442.50" y2="489.80" stroke="#2a2a2a" stroke-width="0.9" />
<line x1="448.50" y1="481.60" x2="448.50" y2="489.80" stroke="#2a2a2a" stroke-width="0.9" />
<line x1="465.50" y1="481.60" x2="465.50" y2="489.80" stroke="#2a2a2a" stroke-width="0.9" />
<line x1="471.50" y1="481.60" x2="471.50" y2="489.80" stroke="#2a2a2a" stroke-width="0.9" />
<g transform="translate(457.20,481.60)"><path d="M-8.5,0.6 Q0,-0.8 8.5,0.6" fill="none" stroke="#2a2a2a" stroke-width="0.7" /></g>
<g transform="translate(457.20,481.60)"><path d="M-8.5,7.6 Q0,9.0 8.5,7.6" fill="none" stroke="#2a2a2a" stroke-width="0.7" /></g>
<rect x="438.50" y="489.50" width="36.00" height="4.00" rx="0" fill="none" stroke="#2a2a2a" stroke-width="0.9"/>
<g transform="translate(457.20,481.60)"><path d="M-19.8,12.3 L19.9,12.3 L21.3,13.40 L19.9,14.53 L21.3,15.63 L19.9,16.76 L21.3,17.86 L19.9,18.99 L21.3,20.09 L19.9,21.22 L21.3,22.32 L19.9,23.45 L21.3,24.55 L19.9,25.68 L-19.8,25.7 L-21.2,24.60 L-19.8,23.47 L-21.2,22.37 L-19.8,21.24 L-21.2,20.14 L-19.8,19.01 L-21.2,17.91 L-19.8,16.78 L-21.2,15.68 L-19.8,14.55 L-21.2,13.45 L-19.8,12.32 Z" fill="#1e1e1e" stroke="#2a2a2a" stroke-width="0.6" /></g>
<g transform="translate(457.20,0.00)"><path d="M-13.2,348.8 L12.8,348.8 L24.3,365.5 L-25.2,365.5 Z" fill="none" stroke="#2a2a2a" stroke-width="1.0" /></g>
<rect x="432.00" y="366.00" width="2.00" height="26.00" fill="#b0b0b0"/>
<rect x="479.00" y="366.00" width="3.00" height="26.00" fill="#b0b0b0"/>
<line x1="438.00" y1="359.00" x2="434.00" y2="364.50" stroke="#2a2a2a" stroke-width="1.8" />
<line x1="475.50" y1="359.00" x2="479.50" y2="364.50" stroke="#2a2a2a" stroke-width="1.8" />
<line x1="432.50" y1="365.50" x2="432.50" y2="392.00" stroke="#2a2a2a" stroke-width="0.9" />
<line x1="434.50" y1="365.50" x2="434.50" y2="392.00" stroke="#2a2a2a" stroke-width="0.9" />
<line x1="436.50" y1="365.50" x2="436.50" y2="392.00" stroke="#2a2a2a" stroke-width="0.9" />
<line x1="442.50" y1="365.50" x2="442.50" y2="392.00" stroke="#2a2a2a" stroke-width="1.4" />
<line x1="446.50" y1="365.50" x2="446.50" y2="392.00" stroke="#2a2a2a" stroke-width="0.9" />
<line x1="453.50" y1="365.50" x2="453.50" y2="392.00" stroke="#2a2a2a" stroke-width="0.9" />
<line x1="459.50" y1="365.50" x2="459.50" y2="392.00" stroke="#2a2a2a" stroke-width="0.9" />
<line x1="466.50" y1="365.50" x2="466.50" y2="392.00" stroke="#2a2a2a" stroke-width="0.9" />
<line x1="471.50" y1="365.50" x2="471.50" y2="392.00" stroke="#2a2a2a" stroke-width="1.4" />
<line x1="476.50" y1="365.50" x2="476.50" y2="392.00" stroke="#2a2a2a" stroke-width="0.9" />
<line x1="478.50" y1="365.50" x2="478.50" y2="392.00" stroke="#2a2a2a" stroke-width="0.9" />
<line x1="481.50" y1="365.50" x2="481.50" y2="392.00" stroke="#2a2a2a" stroke-width="0.9" />
<g transform="translate(457.20,0.00)"><path d="M-20.7,365.5 L-15.7,358.5 L-13.2,358.5 L-15.2,365.5" fill="none" stroke="#2a2a2a" stroke-width="0.9" /></g>
<g transform="translate(457.20,0.00)"><path d="M-10.2,365.5 L-8.2,358.5 L-3.7,358.5 L-3.7,365.5" fill="none" stroke="#2a2a2a" stroke-width="0.9" /></g>
<g transform="translate(457.20,0.00)"><path d="M2.3,365.5 L2.3,358.5 L6.8,358.5 L8.8,365.5" fill="none" stroke="#2a2a2a" stroke-width="0.9" /></g>
<g transform="translate(457.20,0.00)"><path d="M14.3,365.5 L12.3,358.5 L14.8,358.5 L19.3,365.5" fill="none" stroke="#2a2a2a" stroke-width="0.9" /></g>
<rect x="430.50" y="392.50" width="52.00" height="4.00" rx="0" fill="none" stroke="#2a2a2a" stroke-width="1.0"/>
<rect x="430.50" y="396.50" width="54.00" height="19.00" rx="0" fill="none" stroke="#2a2a2a" stroke-width="1.0"/>
<line x1="432.50" y1="396.00" x2="432.50" y2="415.30" stroke="#2a2a2a" stroke-width="0.8" />
<line x1="481.50" y1="396.00" x2="481.50" y2="415.30" stroke="#2a2a2a" stroke-width="0.8" />
<line x1="443.50" y1="396.00" x2="443.50" y2="415.30" stroke="#2a2a2a" stroke-width="0.9" />
<line x1="449.50" y1="396.00" x2="449.50" y2="415.30" stroke="#2a2a2a" stroke-width="0.9" />
<line x1="464.50" y1="396.00" x2="464.50" y2="415.30" stroke="#2a2a2a" stroke-width="0.9" />
<line x1="470.50" y1="396.00" x2="470.50" y2="415.30" stroke="#2a2a2a" stroke-width="0.9" />
<rect x="449.50" y="400.50" width="15.00" height="4.00" rx="0" fill="none" stroke="#2a2a2a" stroke-width="0.9"/>
<rect x="452.50" y="400.50" width="9.00" height="4.00" rx="0" fill="none" stroke="#2a2a2a" stroke-width="0.8"/>
<g transform="translate(457.20,0.00)"><path d="M-27.2,415.3 L-24,418.6 L23.6,418.6 L26.8,415.3" fill="none" stroke="#2a2a2a" stroke-width="0.9" /></g>
<line x1="437.20" y1="419.00" x2="477.00" y2="419.00" stroke="#2a2a2a" stroke-width="1.8" />
<line x1="66.50" y1="84.30" x2="66.50" y2="151.70" stroke="#333" stroke-width="1.0" />
<line x1="60.00" y1="104.50" x2="85.00" y2="104.50" stroke="#333" stroke-width="1.0" />
<line x1="60.00" y1="151.50" x2="86.70" y2="151.50" stroke="#333" stroke-width="1.0" />
<polygon points="66.3,104.6 63.4,116.1 69.2,116.1" fill="#222"/>
<polygon points="66.3,151.6 63.4,140.1 69.2,140.1" fill="#222"/>
<line x1="66.50" y1="427.20" x2="66.50" y2="490.00" stroke="#333" stroke-width="1.0" />
<line x1="60.00" y1="427.50" x2="84.00" y2="427.50" stroke="#333" stroke-width="1.0" />
<line x1="60.00" y1="474.50" x2="80.00" y2="474.50" stroke="#333" stroke-width="1.0" />
<polygon points="66.3,427.2 63.4,438.7 69.2,438.7" fill="#222"/>
<polygon points="66.3,474.2 63.4,462.7 69.2,462.7" fill="#222"/>
<line x1="52.50" y1="128.30" x2="52.50" y2="450.40" stroke="#333" stroke-width="1.0" />
<polygon points="52.5,128.3 49.6,139.8 55.4,139.8" fill="#222"/>
<polygon points="52.5,450.4 49.6,438.9 55.4,438.9" fill="#222"/>
<line x1="569.50" y1="14.40" x2="569.50" y2="519.60" stroke="#333" stroke-width="1.0" />
<line x1="445.50" y1="14.50" x2="576.60" y2="14.50" stroke="#333" stroke-width="1.0" />
<line x1="529.50" y1="519.50" x2="576.00" y2="519.50" stroke="#333" stroke-width="1.0" />
<polygon points="569.6,14.4 566.7,25.9 572.5,25.9" fill="#222"/>
<polygon points="569.6,519.6 566.7,508.1 572.5,508.1" fill="#222"/>
<line x1="90.30" y1="552.50" x2="225.50" y2="552.50" stroke="#333" stroke-width="1.0" />
<line x1="90.50" y1="516.70" x2="90.50" y2="557.50" stroke="#333" stroke-width="1.0" />
<line x1="148.50" y1="486.00" x2="148.50" y2="557.50" stroke="#333" stroke-width="1.0" />
<line x1="225.50" y1="486.00" x2="225.50" y2="557.50" stroke="#333" stroke-width="1.0" />
<polygon points="90.3,552 101.8,549.1 101.8,554.9" fill="#222"/>
<polygon points="148.2,552 136.7,549.1 136.7,554.9" fill="#222"/>
<polygon points="148.2,552 159.7,549.1 159.7,554.9" fill="#222"/>
<polygon points="225.45,552 213.95,549.1 213.95,554.9" fill="#222"/>
<line x1="282.50" y1="552.50" x2="322.40" y2="552.50" stroke="#333" stroke-width="1.0" />
<line x1="282.50" y1="507.00" x2="282.50" y2="557.50" stroke="#333" stroke-width="1.0" />
<line x1="322.50" y1="507.00" x2="322.50" y2="557.50" stroke="#333" stroke-width="1.0" />
<polygon points="282.5,552 294.0,549.1 294.0,554.9" fill="#222"/>
<polygon points="322.4,552 310.9,549.1 310.9,554.9" fill="#222"/>
<line x1="76.00" y1="569.50" x2="530.00" y2="569.50" stroke="#333" stroke-width="1.0" />
<line x1="76.50" y1="513.00" x2="76.50" y2="579.00" stroke="#333" stroke-width="1.0" />
<line x1="530.50" y1="513.00" x2="530.50" y2="579.00" stroke="#333" stroke-width="1.0" />
<polygon points="76,569.7 87.5,566.8000000000001 87.5,572.6" fill="#222"/>
<polygon points="530,569.7 518.5,566.8000000000001 518.5,572.6" fill="#222"/>
<text x="0" y="0" font-size="32" fill="#1a1a1a" stroke="#1a1a1a" stroke-width="0.6" text-anchor="middle" transform="translate(64.3,81.3) rotate(-90)">D</text>
<text x="0" y="0" font-size="32" fill="#1a1a1a" stroke="#1a1a1a" stroke-width="0.6" text-anchor="middle" transform="translate(64.3,478.2) rotate(-90)">D</text>
<path d="M27,271 h2.8 v11.5 h7.5 v-10.6 h2.7 v10.6 h7 v-11.5 h2.8 v14.3 h-22.8 Z" fill="#1a1a1a"/>
<path d="M544.3,271.3 h2.8 v11.3 h7.3 v-10.4 h2.8 v10.4 h9.8 v2.7 h-22.7 Z" fill="#1a1a1a"/>
<text x="121.1" y="549.2" font-size="33" fill="#1a1a1a" stroke="#1a1a1a" stroke-width="0.6" text-anchor="middle">B</text>
<text x="189.0" y="548.6" font-size="33" fill="#1a1a1a" stroke="#1a1a1a" stroke-width="0.6" text-anchor="middle">A</text>
<text x="303.9" y="549.3" font-size="33" fill="#1a1a1a" stroke="#1a1a1a" stroke-width="0.6" text-anchor="middle">C</text>
<text x="422.4" y="566.8" font-size="33" fill="#1a1a1a" stroke="#1a1a1a" stroke-width="0.6" text-anchor="middle">W</text>
</svg>
</body></html>
